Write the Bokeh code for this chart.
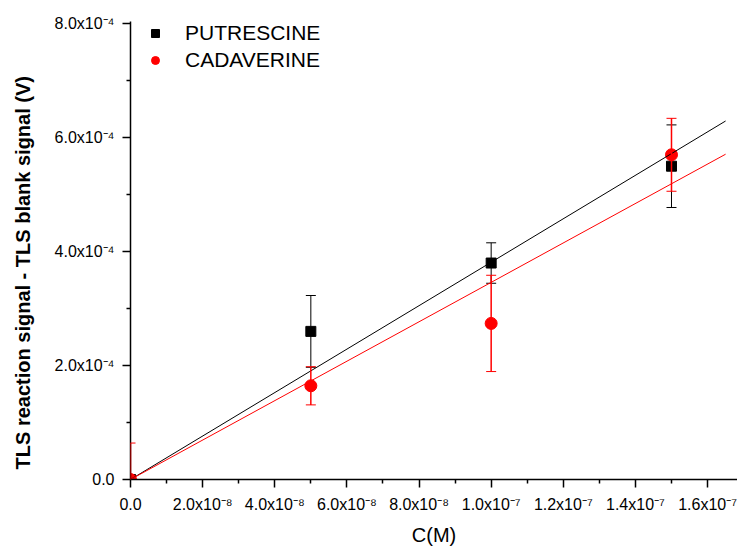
import numpy as np
from bokeh.plotting import figure
from bokeh.models import (ColumnDataSource, Range1d, FixedTicker, Whisker, TeeHead,
                          Legend, LegendItem)
from bokeh.embed import file_html
from bokeh.resources import INLINE

# ---------------- data ----------------
conc = [0.0, 5e-8, 1e-7, 1.5e-7]
put_y = [0.0, 2.60e-4, 3.80e-4, 5.50e-4]
put_err = [0.0, 0.63e-4, 0.355e-4, 0.725e-4]
cad_y = [0.0, 1.645e-4, 2.74e-4, 5.70e-4]
cad_err = [0.64e-4, 0.335e-4, 0.845e-4, 0.64e-4]
fit_x_end = 1.65e-7

x_ticks = [0.0, 2e-8, 4e-8, 6e-8, 8e-8, 1e-7, 1.2e-7, 1.4e-7, 1.6e-7]
x_tick_labels = ["0.0", "2.0x10\u207b\u2078", "4.0x10\u207b\u2078", "6.0x10\u207b\u2078",
                 "8.0x10\u207b\u2078", "1.0x10\u207b\u2077", "1.2x10\u207b\u2077",
                 "1.4x10\u207b\u2077", "1.6x10\u207b\u2077"]
y_ticks = [0.0, 2e-4, 4e-4, 6e-4, 8e-4]
y_tick_labels = ["0.0", "2.0x10\u207b\u2074", "4.0x10\u207b\u2074",
                 "6.0x10\u207b\u2074", "8.0x10\u207b\u2074"]

FONT = "Liberation Sans"

# ---------------- figure ----------------
p = figure(width=737, height=549, output_backend="svg", toolbar_location=None,
           x_range=Range1d(0, 1.683e-7), y_range=Range1d(0, 8.04e-4),
           min_border_left=130, min_border_right=0, min_border_top=21,
           min_border_bottom=70)
p.outline_line_color = None
p.grid.visible = False
p.background_fill_color = "white"
p.border_fill_color = "white"

def mids(t):
    return [(a + b) / 2 for a, b in zip(t[:-1], t[1:])]

p.xaxis.ticker = FixedTicker(ticks=x_ticks, minor_ticks=mids(x_ticks))
p.yaxis.ticker = FixedTicker(ticks=y_ticks, minor_ticks=mids(y_ticks))
p.xaxis.major_label_overrides = dict(zip(x_ticks, x_tick_labels))
p.yaxis.major_label_overrides = dict(zip(y_ticks, y_tick_labels))

for ax in (p.xaxis[0], p.yaxis[0]):
    ax.axis_line_width = 1.5
    ax.axis_line_color = "black"
    ax.major_tick_line_width = 1.5
    ax.major_tick_line_color = "black"
    ax.minor_tick_line_width = 1.5
    ax.minor_tick_line_color = "black"
    ax.major_tick_out = 8
    ax.major_tick_in = 0
    ax.minor_tick_out = 4
    ax.minor_tick_in = 0
    ax.major_label_text_font = FONT
    ax.major_label_text_font_size = "16px"
    ax.major_label_text_color = "black"
    ax.axis_label_text_font = FONT
    ax.axis_label_text_font_size = "20px"
    ax.axis_label_text_color = "black"

p.xaxis.axis_label = "C(M)"
p.xaxis.axis_label_text_font_style = "normal"
p.xaxis.major_label_standoff = 8
p.xaxis.axis_label_standoff = 8
# trailing no-break spaces shift the visible text slightly downward, as in the original
p.yaxis.axis_label = "TLS reaction signal - TLS blank signal (V)" + "\u00a0" * 8
p.yaxis.axis_label_text_font_style = "bold"
p.yaxis.major_label_standoff = 8
p.yaxis.axis_label_standoff = 18

# ---------------- fits (least squares through origin) ----------------
xa = np.array(conc)
k_put = float(np.sum(xa * np.array(put_y)) / np.sum(xa * xa))
k_cad = float(np.sum(xa * np.array(cad_y)) / np.sum(xa * xa))
fx = [0.0, fit_x_end]

# ---------------- sources ----------------
src_put = ColumnDataSource(dict(x=conc, y=put_y,
                                lo=[a - b for a, b in zip(put_y, put_err)],
                                hi=[a + b for a, b in zip(put_y, put_err)]))
src_cad = ColumnDataSource(dict(x=conc, y=cad_y,
                                lo=[a - b for a, b in zip(cad_y, cad_err)],
                                hi=[a + b for a, b in zip(cad_y, cad_err)]))

# putrescine
put_pts = p.scatter("x", "y", source=src_put, marker="square", size=10,
                    fill_color="black", line_color="black")
p.add_layout(Whisker(base="x", upper="hi", lower="lo", source=src_put,
                     line_color="black", line_width=1,
                     upper_head=TeeHead(size=10, line_color="black", line_width=1),
                     lower_head=TeeHead(size=10, line_color="black", line_width=1)))
# cadaverine
cad_pts = p.scatter("x", "y", source=src_cad, marker="circle", size=12,
                    fill_color="red", line_color="red")
p.add_layout(Whisker(base="x", upper="hi", lower="lo", source=src_cad,
                     line_color="red", line_width=1.5, level="overlay",
                     upper_head=TeeHead(size=10, line_color="red", line_width=1),
                     lower_head=TeeHead(size=10, line_color="red", line_width=1)))

p.line(fx, [k_put * v for v in fx], line_color="black", line_width=1)
p.line(fx, [k_cad * v for v in fx], line_color="red", line_width=1)

legend = Legend(items=[LegendItem(label="PUTRESCINE", renderers=[put_pts]),
                       LegendItem(label="CADAVERINE", renderers=[cad_pts])],
                location=(15, 407), border_line_color=None, background_fill_alpha=0,
                padding=0, margin=0, spacing=3, glyph_width=20, glyph_height=22,
                label_height=22, label_standoff=20, label_text_color="black",
                label_text_font=FONT, label_text_font_size="21px")
p.add_layout(legend)

open("out.html", "w").write(file_html(p, INLINE))
